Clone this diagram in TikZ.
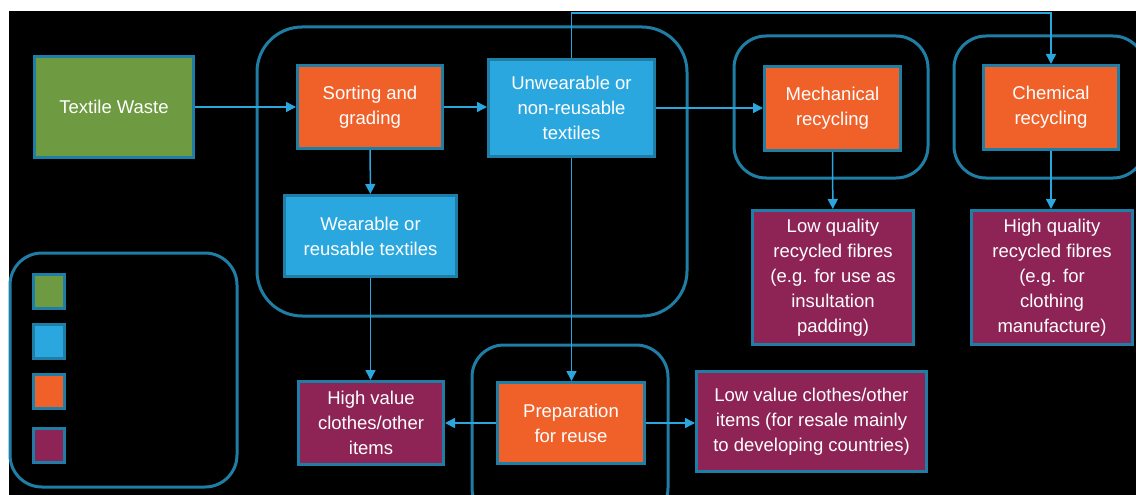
\documentclass[tikz,border=0pt]{standalone}
\usepackage{fontspec}
\setmainfont{Liberation Sans}
\usetikzlibrary{arrows.meta}

\definecolor{wastegreen}{HTML}{6E9B41}
\definecolor{procorange}{HTML}{F0612A}
\definecolor{textileblue}{HTML}{2BA7DF}
\definecolor{productpurple}{HTML}{8E2456}
\definecolor{edgeteal}{HTML}{1F7EA5}

\begin{document}
\begin{tikzpicture}[x=1pt, y=-1pt,
  box/.style={rectangle, draw=edgeteal, line width=3pt, text=white, align=center, font=\fontsize{18.5}{25}\selectfont, inner sep=2pt},
  waste/.style={box, fill=wastegreen},
  textile/.style={box, fill=textileblue},
  process/.style={box, fill=procorange},
  product/.style={box, fill=productpurple},
  group/.style={draw=edgeteal, line width=3pt, rounded corners=#1},
  arrow/.style={-{Triangle[length=10pt,width=10pt]}, draw=textileblue, line width=1.5pt}
]
  \clip (0,0) rectangle (1136,495);
  \fill[white] (0,0) rectangle (1136,495);
  \fill[black] (9,11) rectangle (1136,495);

  % groups behind the boxes
  \draw[group=45pt] (257,27) rectangle (687,316);
  \draw[group=32pt] (734,36) rectangle (928,178);
  \draw[group=32pt] (954,36) rectangle (1145,178);
  \draw[group=32pt] (472,345) rectangle (668,520);
  \draw[group=32pt] (10,253) rectangle (237,487);

  \node[waste, minimum width=159pt, minimum height=101pt] (waste) at (114,107) {Textile Waste};
  \node[process, minimum width=145pt, minimum height=83pt] (sort) at (370,107) {Sorting and\\grading};
  \node[textile, minimum width=166pt, minimum height=97pt] (unwear) at (571.5,108) {Unwearable or\\non-reusable\\textiles};
  \node[textile, minimum width=172pt, minimum height=81pt] (wear) at (370.5,236) {Wearable or\\reusable textiles};
  \node[process, minimum width=136pt, minimum height=84pt] (mech) at (832.5,108.5) {Mechanical\\recycling};
  \node[process, minimum width=135pt, minimum height=84pt] (chem) at (1051,107.5) {Chemical\\recycling};
  \node[product, minimum width=161pt, minimum height=134pt] (lowq) at (833,277.5) {Low quality\\recycled fibres\\(e.g. for use as\\insultation\\padding)};
  \node[product, minimum width=161pt, minimum height=134pt] (highq) at (1052,277.5) {High quality\\recycled fibres\\(e.g. for\\clothing\\manufacture)};
  \node[product, minimum width=230pt, minimum height=100pt] (lowv) at (811.5,421.5) {Low value clothes/other\\items (for resale mainly\\to developing countries)};
  \node[product, minimum width=145pt, minimum height=83pt] (highv) at (371,423) {High value\\clothes/other\\items};
  \node[process, minimum width=147pt, minimum height=81pt] (prep) at (571,423) {Preparation\\for reuse};

  % colour key
  \foreach \c/\y in {wastegreen/291, textileblue/341, procorange/391, productpurple/445}
    \node[box, fill=\c, minimum width=31pt, minimum height=34pt] (key-\c) at (49,\y) {};

  \draw[arrow] (waste) -- (sort);
  \draw[arrow] (sort.east) -- (sort.east -| unwear.west);
  \draw[arrow] (unwear.east) -- (unwear.east -| mech.west);
  \draw[arrow] (sort) -- (wear);
  \draw[arrow] (unwear.north) -- (unwear.north |- 0,13) -| (chem.north);
  \draw[arrow] (mech) -- (lowq);
  \draw[arrow] (chem.south) -- (chem.south |- highq.north);
  \draw[arrow] (wear.south) -- (wear.south |- highv.north);
  \draw[arrow] (unwear.south) -- (unwear.south |- prep.north);
  \draw[arrow] (prep) -- (highv);
  \draw[arrow] (prep.east) -- (prep.east -| lowv.west);
\end{tikzpicture}
\end{document}
